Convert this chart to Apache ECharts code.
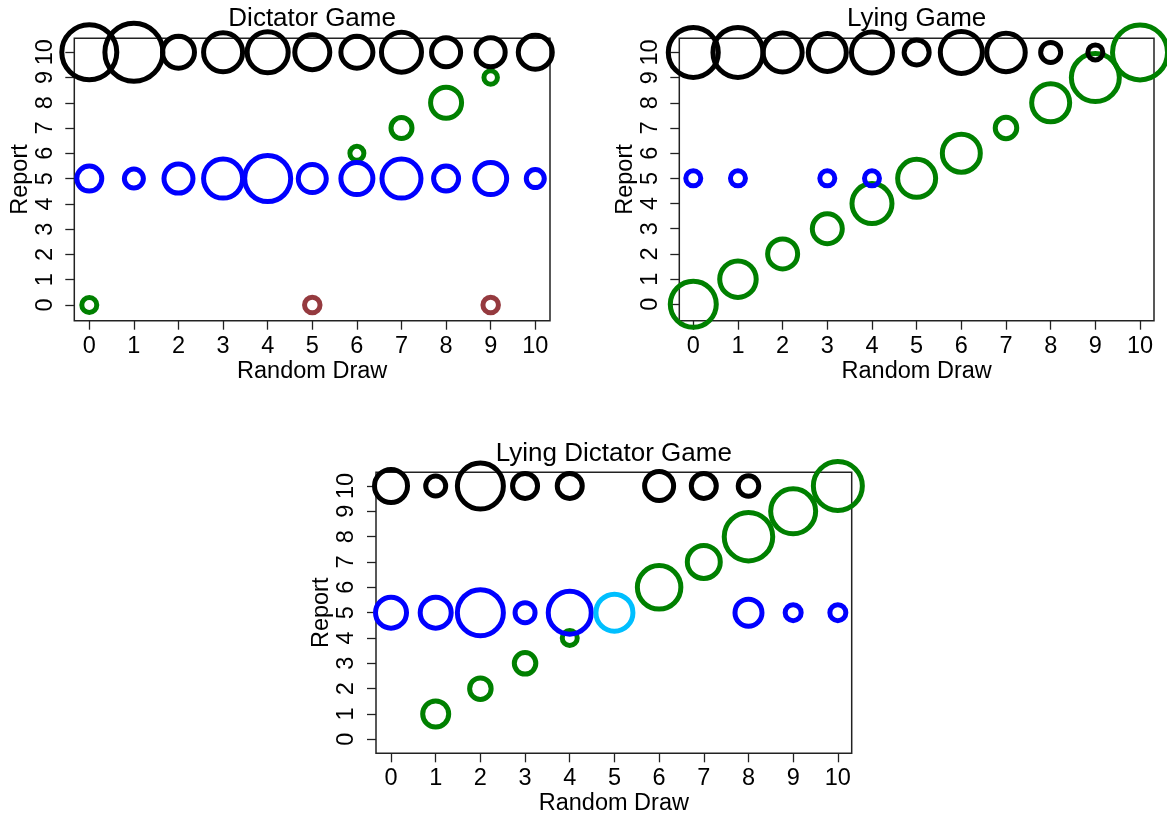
<!DOCTYPE html>
<html>
<head>
<meta charset="utf-8">
<script src="https://cdn.jsdelivr.net/npm/echarts@6/dist/echarts.min.js"></script>
<style>
html,body{margin:0;padding:0;background:#fff;}
#chart{width:1167px;height:817px;}
</style>
</head>
<body>
<div id="chart"></div>
<script>
// ---- data: [random draw, report, relative circle weight] ----
const panelTitles = ['Dictator Game', 'Lying Game', 'Lying Dictator Game'];
const xTicks = [0,1,2,3,4,5,6,7,8,9,10];
const yTicks = [0,1,2,3,4,5,6,7,8,9,10];
const xName = 'Random Draw';
const yName = 'Report';

// Dictator Game
const dgBlack = [[0,10,6.0],[1,10,6.3],[2,10,3.7],[3,10,4.4],[4,10,4.6],[5,10,4.0],[6,10,3.7],[7,10,4.5],[8,10,3.4],[9,10,3.4],[10,10,3.9]];
const dgBlue  = [[0,5,3.0],[1,5,2.4],[2,5,3.4],[3,5,4.4],[4,5,5.1],[5,5,3.3],[6,5,3.7],[7,5,4.4],[8,5,3.0],[9,5,3.7],[10,5,2.3]];
const dgGreen = [[0,0,2.0],[6,6,1.9],[7,7,2.6],[8,8,3.6],[9,9,1.85]];
const dgBrown = [[5,0,2.05],[9,0,2.05]];

// Lying Game
const lgBlack = [[0,10,5.5],[1,10,5.5],[2,10,4.4],[3,10,4.3],[4,10,4.6],[5,10,3.0],[6,10,4.7],[7,10,4.35],[8,10,2.5],[9,10,2.0]];
const lgBlue  = [[0,5,2.0],[1,5,2.0],[3,5,2.0],[4,5,2.0]];
const lgGreen = [[0,0,5.1],[1,1,4.15],[2,2,3.5],[3,3,3.5],[4,4,4.5],[5,5,4.3],[6,6,4.3],[7,7,2.65],[8,8,4.3],[9,9,5.3],[10,10,6.0]];

// Lying Dictator Game
const ldBlack = [[0,10,3.8],[1,10,2.5],[2,10,5.1],[3,10,3.0],[4,10,3.0],[6,10,3.4],[7,10,3.0],[8,10,2.55]];
const ldBlue  = [[0,5,3.6],[1,5,3.6],[2,5,5.1],[3,5,2.5],[4,5,4.8],[8,5,3.2],[9,5,2.1],[10,5,2.1]];
const ldCyan  = [[5,5,4.2]];
const ldGreen = [[1,1,3.1],[2,2,2.65],[3,3,2.65],[4,4,2.0],[6,6,4.85],[7,7,3.8],[8,8,5.35],[9,9,5.0],[10,10,5.4]];

// ---- styling / layout ----
const FONT = "'Liberation Sans', Arial, sans-serif";
const LINE_W = 5;
const SIZE_SCALE = 10;
const COLORS = {black:'#000000', blue:'#0000ff', green:'#008000', brown:'#953a3f', cyan:'#00bfff'};

const grids = [
  {left:74.3, top:38.3, width:475.7, height:282.4},
  {left:679.3, top:38.3, width:474.7, height:282.4},
  {left:376, top:472.3, width:475.7, height:281}
];
const xRanges = [[-0.336,10.33],[-0.313,10.313],[-0.336,10.31]];
const yRanges = [[-0.62,10.55],[-0.65,10.56],[-0.553,10.54]];
const titleTops = [6, 441];

function scatter(data, color, gi){
  return {
    type:'scatter', xAxisIndex:gi, yAxisIndex:gi, data:data,
    symbol:'circle',
    symbolSize:function(v){ return v[2]*SIZE_SCALE - LINE_W; },
    itemStyle:{color:'rgba(0,0,0,0)', borderColor:color, borderWidth:LINE_W, opacity:1},
    emphasis:{disabled:true}, silent:true, clip:false, animation:false
  };
}

const option = {
  animation:false,
  backgroundColor:'#ffffff',
  title: grids.map((g,i)=>({
    text: panelTitles[i],
    left: g.left + g.width/2,
    textAlign:'center',
    top: i < 2 ? titleTops[0] : titleTops[1],
    padding:0,
    textStyle:{fontFamily:FONT, fontSize:26, fontWeight:'normal', color:'#000'}
  })),
  grid: grids.map(g=>Object.assign({show:true, borderColor:'#222', borderWidth:1.5, backgroundColor:'rgba(0,0,0,0)', containLabel:false, outerBoundsMode:'none'}, g)),
  xAxis: grids.map((g,i)=>({
    gridIndex:i, type:'value', min:xRanges[i][0], max:xRanges[i][1],
    axisLine:{show:false, onZero:false}, splitLine:{show:false},
    axisTick:{show:true, inside:false, length:9, lineStyle:{color:'#222', width:1.3}, customValues:xTicks},
    axisLabel:{show:true, customValues:xTicks, margin:13.5, fontSize:23.5, fontFamily:FONT, color:'#000'},
    name:xName, nameLocation:'middle', nameGap:38.5, nameMoveOverlap:false,
    nameTextStyle:{fontSize:23.5, fontFamily:FONT, color:'#000'}
  })),
  yAxis: grids.map((g,i)=>({
    gridIndex:i, type:'value', min:yRanges[i][0], max:yRanges[i][1],
    axisLine:{show:false, onZero:false}, splitLine:{show:false},
    axisTick:{show:true, inside:false, length:9, lineStyle:{color:'#222', width:1.3}, customValues:yTicks},
    axisLabel:{show:true, customValues:yTicks, rotate:90, margin:17, fontSize:23.5, fontFamily:FONT, color:'#000', hideOverlap:false},
    name:yName, nameLocation:'middle', nameRotate:90, nameGap:42, nameMoveOverlap:false,
    nameTextStyle:{fontSize:23.5, fontFamily:FONT, color:'#000'}
  })),
  series:[
    scatter(dgGreen, COLORS.green, 0),
    scatter(dgBrown, COLORS.brown, 0),
    scatter(dgBlue, COLORS.blue, 0),
    scatter(dgBlack, COLORS.black, 0),
    scatter(lgGreen, COLORS.green, 1),
    scatter(lgBlue, COLORS.blue, 1),
    scatter(lgBlack, COLORS.black, 1),
    scatter(ldGreen, COLORS.green, 2),
    scatter(ldBlue, COLORS.blue, 2),
    scatter(ldCyan, COLORS.cyan, 2),
    scatter(ldBlack, COLORS.black, 2)
  ]
};

const chart = echarts.init(document.getElementById('chart'), null, {renderer:'canvas'});
chart.setOption(option);
</script>
</body>
</html>
